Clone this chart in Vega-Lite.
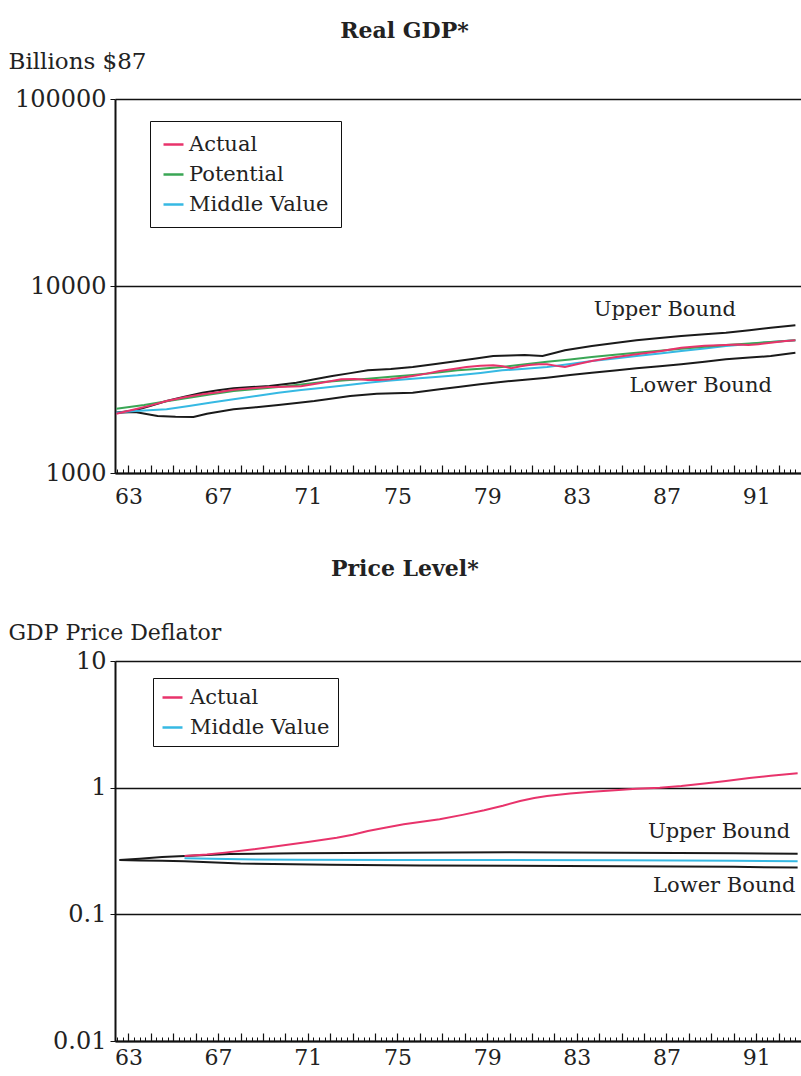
{
  "$schema": "https://vega.github.io/schema/vega-lite/v6.json",
  "padding": {"left": 8, "top": 20, "right": 0, "bottom": 0},
  "background": "white",
  "config": {
    "font": "DejaVu Serif",
    "view": {"stroke": null},
    "axis": {"labelFont": "DejaVu Serif", "titleFont": "DejaVu Serif", "labelColor": "#222", "titleColor": "#222", "titleFontWeight": "normal", "domainColor": "#111", "tickColor": "#111", "gridColor": "#111"},
    "title": {"font": "DejaVu Serif", "fontSize": 22, "fontWeight": "bold", "color": "#222"},
    "legend": {"title": null, "orient": "none", "symbolType": "stroke", "symbolSize": 400, "symbolStrokeWidth": 2.5, "labelFontSize": 21, "labelFont": "DejaVu Serif", "labelColor": "#222", "strokeColor": "#111", "fillColor": "white", "padding": 12, "rowPadding": 8, "labelOffset": 4},
    "concat": {"spacing": 51}
  },
  "datasets": {
    "gdp": [
      {"series": "Upper Bound", "year": 62.46, "value": 2102}, {"series": "Upper Bound", "year": 63.3, "value": 2163}, {"series": "Upper Bound", "year": 64.0, "value": 2290}, {"series": "Upper Bound", "year": 64.7, "value": 2427}, {"series": "Upper Bound", "year": 65.5, "value": 2560}, {"series": "Upper Bound", "year": 66.3, "value": 2689}, {"series": "Upper Bound", "year": 67.0, "value": 2770}, {"series": "Upper Bound", "year": 67.69, "value": 2837}, {"series": "Upper Bound", "year": 68.5, "value": 2880}, {"series": "Upper Bound", "year": 69.29, "value": 2919}, {"series": "Upper Bound", "year": 70.49, "value": 3042}, {"series": "Upper Bound", "year": 71.3, "value": 3170}, {"series": "Upper Bound", "year": 72.09, "value": 3302}, {"series": "Upper Bound", "year": 72.9, "value": 3420}, {"series": "Upper Bound", "year": 73.68, "value": 3540}, {"series": "Upper Bound", "year": 74.7, "value": 3600}, {"series": "Upper Bound", "year": 75.68, "value": 3688}, {"series": "Upper Bound", "year": 76.7, "value": 3830}, {"series": "Upper Bound", "year": 77.68, "value": 3971}, {"series": "Upper Bound", "year": 78.5, "value": 4090}, {"series": "Upper Bound", "year": 79.27, "value": 4223}, {"series": "Upper Bound", "year": 80.0, "value": 4250}, {"series": "Upper Bound", "year": 80.67, "value": 4276}, {"series": "Upper Bound", "year": 81.47, "value": 4223}, {"series": "Upper Bound", "year": 82.0, "value": 4380}, {"series": "Upper Bound", "year": 82.47, "value": 4529}, {"series": "Upper Bound", "year": 83.67, "value": 4777}, {"series": "Upper Bound", "year": 84.7, "value": 4950}, {"series": "Upper Bound", "year": 85.66, "value": 5122}, {"series": "Upper Bound", "year": 86.7, "value": 5270}, {"series": "Upper Bound", "year": 87.66, "value": 5402}, {"series": "Upper Bound", "year": 88.7, "value": 5520}, {"series": "Upper Bound", "year": 89.65, "value": 5628}, {"series": "Upper Bound", "year": 90.7, "value": 5800}, {"series": "Upper Bound", "year": 91.65, "value": 5987}, {"series": "Upper Bound", "year": 92.75, "value": 6163},
      {"series": "Lower Bound", "year": 62.46, "value": 2102}, {"series": "Lower Bound", "year": 63.3, "value": 2119}, {"series": "Lower Bound", "year": 64.3, "value": 2018}, {"series": "Lower Bound", "year": 65.1, "value": 2000}, {"series": "Lower Bound", "year": 65.9, "value": 1993}, {"series": "Lower Bound", "year": 66.5, "value": 2076}, {"series": "Lower Bound", "year": 67.69, "value": 2190}, {"series": "Lower Bound", "year": 68.7, "value": 2250}, {"series": "Lower Bound", "year": 69.69, "value": 2310}, {"series": "Lower Bound", "year": 70.5, "value": 2370}, {"series": "Lower Bound", "year": 71.29, "value": 2427}, {"series": "Lower Bound", "year": 72.1, "value": 2500}, {"series": "Lower Bound", "year": 72.89, "value": 2581}, {"series": "Lower Bound", "year": 74.08, "value": 2656}, {"series": "Lower Bound", "year": 75.68, "value": 2689}, {"series": "Lower Bound", "year": 76.88, "value": 2802}, {"series": "Lower Bound", "year": 77.8, "value": 2890}, {"series": "Lower Bound", "year": 78.68, "value": 2980}, {"series": "Lower Bound", "year": 80.07, "value": 3105}, {"series": "Lower Bound", "year": 81.67, "value": 3235}, {"series": "Lower Bound", "year": 82.7, "value": 3340}, {"series": "Lower Bound", "year": 83.67, "value": 3440}, {"series": "Lower Bound", "year": 84.7, "value": 3530}, {"series": "Lower Bound", "year": 85.66, "value": 3628}, {"series": "Lower Bound", "year": 86.7, "value": 3720}, {"series": "Lower Bound", "year": 87.66, "value": 3812}, {"series": "Lower Bound", "year": 88.7, "value": 3930}, {"series": "Lower Bound", "year": 89.65, "value": 4053}, {"series": "Lower Bound", "year": 90.7, "value": 4140}, {"series": "Lower Bound", "year": 91.65, "value": 4223}, {"series": "Lower Bound", "year": 92.75, "value": 4400},
      {"series": "Middle Value", "year": 62.46, "value": 2102}, {"series": "Middle Value", "year": 63.3, "value": 2146}, {"series": "Middle Value", "year": 64.7, "value": 2190}, {"series": "Middle Value", "year": 65.7, "value": 2282}, {"series": "Middle Value", "year": 66.7, "value": 2380}, {"series": "Middle Value", "year": 67.69, "value": 2477}, {"series": "Middle Value", "year": 68.7, "value": 2580}, {"series": "Middle Value", "year": 69.69, "value": 2689}, {"series": "Middle Value", "year": 70.7, "value": 2775}, {"series": "Middle Value", "year": 71.69, "value": 2860}, {"series": "Middle Value", "year": 72.7, "value": 2950}, {"series": "Middle Value", "year": 73.68, "value": 3042}, {"series": "Middle Value", "year": 74.7, "value": 3120}, {"series": "Middle Value", "year": 75.68, "value": 3195}, {"series": "Middle Value", "year": 76.7, "value": 3260}, {"series": "Middle Value", "year": 77.68, "value": 3329}, {"series": "Middle Value", "year": 78.7, "value": 3430}, {"series": "Middle Value", "year": 79.67, "value": 3540}, {"series": "Middle Value", "year": 80.7, "value": 3610}, {"series": "Middle Value", "year": 81.67, "value": 3688}, {"series": "Middle Value", "year": 82.7, "value": 3830}, {"series": "Middle Value", "year": 83.67, "value": 3971}, {"series": "Middle Value", "year": 84.7, "value": 4100}, {"series": "Middle Value", "year": 85.66, "value": 4223}, {"series": "Middle Value", "year": 86.7, "value": 4350}, {"series": "Middle Value", "year": 87.66, "value": 4491}, {"series": "Middle Value", "year": 88.7, "value": 4630}, {"series": "Middle Value", "year": 89.65, "value": 4777}, {"series": "Middle Value", "year": 90.7, "value": 4900}, {"series": "Middle Value", "year": 91.65, "value": 5018}, {"series": "Middle Value", "year": 92.75, "value": 5122},
      {"series": "Potential", "year": 62.46, "value": 2208}, {"series": "Potential", "year": 63.7, "value": 2310}, {"series": "Potential", "year": 64.7, "value": 2420}, {"series": "Potential", "year": 65.7, "value": 2528}, {"series": "Potential", "year": 66.7, "value": 2640}, {"series": "Potential", "year": 67.69, "value": 2745}, {"series": "Potential", "year": 68.7, "value": 2815}, {"series": "Potential", "year": 69.69, "value": 2884}, {"series": "Potential", "year": 70.7, "value": 2975}, {"series": "Potential", "year": 71.69, "value": 3067}, {"series": "Potential", "year": 72.7, "value": 3130}, {"series": "Potential", "year": 73.68, "value": 3195}, {"series": "Potential", "year": 74.7, "value": 3270}, {"series": "Potential", "year": 75.68, "value": 3343}, {"series": "Potential", "year": 76.7, "value": 3440}, {"series": "Potential", "year": 77.68, "value": 3540}, {"series": "Potential", "year": 78.7, "value": 3610}, {"series": "Potential", "year": 79.67, "value": 3688}, {"series": "Potential", "year": 80.7, "value": 3810}, {"series": "Potential", "year": 81.67, "value": 3938}, {"series": "Potential", "year": 82.7, "value": 4050}, {"series": "Potential", "year": 83.67, "value": 4171}, {"series": "Potential", "year": 84.7, "value": 4290}, {"series": "Potential", "year": 85.66, "value": 4400}, {"series": "Potential", "year": 86.7, "value": 4510}, {"series": "Potential", "year": 87.66, "value": 4623}, {"series": "Potential", "year": 88.7, "value": 4730}, {"series": "Potential", "year": 89.65, "value": 4836}, {"series": "Potential", "year": 90.7, "value": 4930}, {"series": "Potential", "year": 91.65, "value": 5018}, {"series": "Potential", "year": 92.75, "value": 5122},
      {"series": "Actual", "year": 62.46, "value": 2076}, {"series": "Actual", "year": 63.3, "value": 2190}, {"series": "Actual", "year": 64.0, "value": 2300}, {"series": "Actual", "year": 64.7, "value": 2427}, {"series": "Actual", "year": 65.5, "value": 2540}, {"series": "Actual", "year": 66.3, "value": 2635}, {"series": "Actual", "year": 67.0, "value": 2700}, {"series": "Actual", "year": 67.69, "value": 2790}, {"series": "Actual", "year": 68.5, "value": 2840}, {"series": "Actual", "year": 69.29, "value": 2880}, {"series": "Actual", "year": 70.0, "value": 2890}, {"series": "Actual", "year": 70.69, "value": 2910}, {"series": "Actual", "year": 71.5, "value": 3020}, {"series": "Actual", "year": 72.49, "value": 3169}, {"series": "Actual", "year": 73.1, "value": 3180}, {"series": "Actual", "year": 73.68, "value": 3143}, {"series": "Actual", "year": 74.2, "value": 3140}, {"series": "Actual", "year": 74.68, "value": 3169}, {"series": "Actual", "year": 75.68, "value": 3302}, {"series": "Actual", "year": 76.3, "value": 3400}, {"series": "Actual", "year": 76.88, "value": 3511}, {"series": "Actual", "year": 77.5, "value": 3600}, {"series": "Actual", "year": 78.08, "value": 3688}, {"series": "Actual", "year": 78.7, "value": 3740}, {"series": "Actual", "year": 79.27, "value": 3765}, {"series": "Actual", "year": 79.7, "value": 3720}, {"series": "Actual", "year": 80.07, "value": 3628}, {"series": "Actual", "year": 80.5, "value": 3720}, {"series": "Actual", "year": 80.87, "value": 3781}, {"series": "Actual", "year": 81.3, "value": 3820}, {"series": "Actual", "year": 81.67, "value": 3812}, {"series": "Actual", "year": 82.1, "value": 3740}, {"series": "Actual", "year": 82.47, "value": 3688}, {"series": "Actual", "year": 83.0, "value": 3820}, {"series": "Actual", "year": 83.67, "value": 3971}, {"series": "Actual", "year": 84.6, "value": 4150}, {"series": "Actual", "year": 85.66, "value": 4311}, {"series": "Actual", "year": 86.7, "value": 4480}, {"series": "Actual", "year": 87.66, "value": 4680}, {"series": "Actual", "year": 88.7, "value": 4790}, {"series": "Actual", "year": 89.65, "value": 4836}, {"series": "Actual", "year": 90.2, "value": 4860}, {"series": "Actual", "year": 90.65, "value": 4836}, {"series": "Actual", "year": 91.1, "value": 4880}, {"series": "Actual", "year": 91.65, "value": 4977}, {"series": "Actual", "year": 92.2, "value": 5060}, {"series": "Actual", "year": 92.75, "value": 5122}
    ],
    "price": [
      {"series": "Upper Bound", "year": 62.6, "value": 0.268}, {"series": "Upper Bound", "year": 63.5, "value": 0.275}, {"series": "Upper Bound", "year": 64.5, "value": 0.283}, {"series": "Upper Bound", "year": 65.5, "value": 0.289}, {"series": "Upper Bound", "year": 67.5, "value": 0.3}, {"series": "Upper Bound", "year": 70.6, "value": 0.303}, {"series": "Upper Bound", "year": 75, "value": 0.307}, {"series": "Upper Bound", "year": 80, "value": 0.309}, {"series": "Upper Bound", "year": 85, "value": 0.307}, {"series": "Upper Bound", "year": 90, "value": 0.303}, {"series": "Upper Bound", "year": 92.85, "value": 0.301},
      {"series": "Lower Bound", "year": 62.6, "value": 0.268}, {"series": "Lower Bound", "year": 63.5, "value": 0.266}, {"series": "Lower Bound", "year": 64.5, "value": 0.265}, {"series": "Lower Bound", "year": 65.5, "value": 0.263}, {"series": "Lower Bound", "year": 68, "value": 0.252}, {"series": "Lower Bound", "year": 72, "value": 0.246}, {"series": "Lower Bound", "year": 76, "value": 0.243}, {"series": "Lower Bound", "year": 80, "value": 0.242}, {"series": "Lower Bound", "year": 85, "value": 0.24}, {"series": "Lower Bound", "year": 90, "value": 0.237}, {"series": "Lower Bound", "year": 92.85, "value": 0.234},
      {"series": "Middle Value", "year": 65.5, "value": 0.277}, {"series": "Middle Value", "year": 68, "value": 0.272}, {"series": "Middle Value", "year": 70.6, "value": 0.27}, {"series": "Middle Value", "year": 75, "value": 0.269}, {"series": "Middle Value", "year": 80, "value": 0.268}, {"series": "Middle Value", "year": 85, "value": 0.267}, {"series": "Middle Value", "year": 90, "value": 0.265}, {"series": "Middle Value", "year": 92.85, "value": 0.263},
      {"series": "Actual", "year": 65.5, "value": 0.289}, {"series": "Actual", "year": 66.5, "value": 0.297}, {"series": "Actual", "year": 67.3, "value": 0.307}, {"series": "Actual", "year": 68.5, "value": 0.325}, {"series": "Actual", "year": 69.69, "value": 0.346}, {"series": "Actual", "year": 71, "value": 0.372}, {"series": "Actual", "year": 72.29, "value": 0.403}, {"series": "Actual", "year": 73.0, "value": 0.425}, {"series": "Actual", "year": 73.68, "value": 0.455}, {"series": "Actual", "year": 74.5, "value": 0.485}, {"series": "Actual", "year": 75.28, "value": 0.514}, {"series": "Actual", "year": 76.0, "value": 0.535}, {"series": "Actual", "year": 76.88, "value": 0.563}, {"series": "Actual", "year": 77.9, "value": 0.61}, {"series": "Actual", "year": 78.87, "value": 0.663}, {"series": "Actual", "year": 79.7, "value": 0.72}, {"series": "Actual", "year": 80.47, "value": 0.785}, {"series": "Actual", "year": 81.1, "value": 0.83}, {"series": "Actual", "year": 81.67, "value": 0.859}, {"series": "Actual", "year": 82.7, "value": 0.9}, {"series": "Actual", "year": 83.67, "value": 0.93}, {"series": "Actual", "year": 84.7, "value": 0.955}, {"series": "Actual", "year": 85.66, "value": 0.98}, {"series": "Actual", "year": 86.7, "value": 1.0}, {"series": "Actual", "year": 87.66, "value": 1.03}, {"series": "Actual", "year": 88.7, "value": 1.08}, {"series": "Actual", "year": 89.65, "value": 1.13}, {"series": "Actual", "year": 90.7, "value": 1.19}, {"series": "Actual", "year": 91.65, "value": 1.24}, {"series": "Actual", "year": 92.85, "value": 1.297}
    ],
    "gdpNotes": [
      {"label": "Upper Bound", "year": 90.1, "value": 7450},
      {"label": "Lower Bound", "year": 91.7, "value": 2918}
    ],
    "priceNotes": [
      {"label": "Upper Bound", "year": 92.52, "value": 0.447},
      {"label": "Lower Bound", "year": 92.75, "value": 0.1675}
    ]
  },
  "vconcat": [
    {
      "title": {"text": "Real GDP*", "anchor": "middle", "frame": "bounds", "offset": 7},
      "width": 686,
      "height": 374,
      "encoding": {
        "y": {"field": "value", "type": "quantitative", "scale": {"type": "log", "domain": [1000, 100000], "nice": false},
          "axis": {"values": [1000, 10000, 100000], "format": "~g", "grid": true, "gridWidth": 1.5, "domainWidth": 2, "tickSize": 5, "labelFontSize": 24, "labelPadding": 4, "title": "Billions $87", "titleAngle": 0, "titleAlign": "left", "titleBaseline": "alphabetic", "titleX": -107, "titleY": -31, "titleFontSize": 23}}
      },
      "layer": [
        {
          "data": {"name": "gdp"},
          "transform": [{"filter": "datum.series === 'Upper Bound' || datum.series === 'Lower Bound'"}],
          "mark": {"type": "line", "color": "#1a1a1a", "strokeWidth": 2},
          "encoding": {
            "x": {"field": "year", "type": "quantitative", "scale": {"domain": [62.4, 93.0], "nice": false, "zero": false},
              "axis": {"orient": "bottom", "values": [63, 67, 71, 75, 79, 83, 87, 91], "ticks": false, "labelFontSize": 22, "labelPadding": 13, "domainWidth": 2, "grid": false, "title": null, "labelFlush": false, "labelOverlap": false}},
            "detail": {"field": "series"}
          }
        },
        {
          "data": {"name": "gdp"},
          "transform": [{"filter": "datum.series !== 'Upper Bound' && datum.series !== 'Lower Bound'"}],
          "mark": {"type": "line", "strokeWidth": 2},
          "encoding": {
            "x": {"field": "year", "type": "quantitative",
              "axis": {"orient": "bottom", "values": [62.5,62.75,63,63.25,63.5,63.75,64,64.25,64.5,64.75,65,65.25,65.5,65.75,66,66.25,66.5,66.75,67,67.25,67.5,67.75,68,68.25,68.5,68.75,69,69.25,69.5,69.75,70,70.25,70.5,70.75,71,71.25,71.5,71.75,72,72.25,72.5,72.75,73,73.25,73.5,73.75,74,74.25,74.5,74.75,75,75.25,75.5,75.75,76,76.25,76.5,76.75,77,77.25,77.5,77.75,78,78.25,78.5,78.75,79,79.25,79.5,79.75,80,80.25,80.5,80.75,81,81.25,81.5,81.75,82,82.25,82.5,82.75,83,83.25,83.5,83.75,84,84.25,84.5,84.75,85,85.25,85.5,85.75,86,86.25,86.5,86.75,87,87.25,87.5,87.75,88,88.25,88.5,88.75,89,89.25,89.5,89.75,90,90.25,90.5,90.75,91,91.25,91.5,91.75,92,92.25,92.5,92.75], "labels": false, "domain": false, "tickSize": -4, "tickWidth": 1, "grid": false, "title": null}},
            "color": {"field": "series", "type": "nominal",
              "scale": {"domain": ["Actual", "Potential", "Middle Value"], "range": ["#e8336b", "#3aa655", "#36b9e3"]},
              "legend": {"legendX": 35, "legendY": 22}}
          }
        },
        {
          "data": {"name": "gdpNotes"},
          "mark": {"type": "text", "align": "right", "baseline": "middle", "fontSize": 21, "font": "DejaVu Serif", "color": "#222"},
          "encoding": {
            "x": {"field": "year", "type": "quantitative",
              "axis": {"orient": "bottom", "values": [63,64,65,66,67,68,69,70,71,72,73,74,75,76,77,78,79,80,81,82,83,84,85,86,87,88,89,90,91,92], "labels": false, "domain": false, "tickSize": -8, "tickWidth": 1.2, "grid": false, "title": null}},
            "text": {"field": "label"}
          }
        }
      ],
      "resolve": {"axis": {"x": "independent"}}
    },
    {
      "title": {"text": "Price Level*", "anchor": "middle", "frame": "bounds", "offset": 40},
      "width": 686,
      "height": 380,
      "encoding": {
        "y": {"field": "value", "type": "quantitative", "scale": {"type": "log", "domain": [0.01, 10], "nice": false},
          "axis": {"values": [0.01, 0.1, 1, 10], "format": "~g", "grid": true, "gridWidth": 1.5, "domainWidth": 2, "tickSize": 5, "labelFontSize": 24, "labelPadding": 4, "title": "GDP Price Deflator", "titleAngle": 0, "titleAlign": "left", "titleBaseline": "alphabetic", "titleX": -107, "titleY": -22, "titleFontSize": 22}}
      },
      "layer": [
        {
          "data": {"name": "price"},
          "transform": [{"filter": "datum.series === 'Upper Bound' || datum.series === 'Lower Bound'"}],
          "mark": {"type": "line", "color": "#1a1a1a", "strokeWidth": 2},
          "encoding": {
            "x": {"field": "year", "type": "quantitative", "scale": {"domain": [62.4, 93.0], "nice": false, "zero": false},
              "axis": {"orient": "bottom", "values": [63, 67, 71, 75, 79, 83, 87, 91], "ticks": false, "labelFontSize": 22, "labelPadding": 6, "domainWidth": 2, "grid": false, "title": null, "labelFlush": false, "labelOverlap": false}},
            "detail": {"field": "series"}
          }
        },
        {
          "data": {"name": "price"},
          "transform": [{"filter": "datum.series !== 'Upper Bound' && datum.series !== 'Lower Bound'"}],
          "mark": {"type": "line", "strokeWidth": 2},
          "encoding": {
            "x": {"field": "year", "type": "quantitative",
              "axis": {"orient": "bottom", "values": [62.5,62.75,63,63.25,63.5,63.75,64,64.25,64.5,64.75,65,65.25,65.5,65.75,66,66.25,66.5,66.75,67,67.25,67.5,67.75,68,68.25,68.5,68.75,69,69.25,69.5,69.75,70,70.25,70.5,70.75,71,71.25,71.5,71.75,72,72.25,72.5,72.75,73,73.25,73.5,73.75,74,74.25,74.5,74.75,75,75.25,75.5,75.75,76,76.25,76.5,76.75,77,77.25,77.5,77.75,78,78.25,78.5,78.75,79,79.25,79.5,79.75,80,80.25,80.5,80.75,81,81.25,81.5,81.75,82,82.25,82.5,82.75,83,83.25,83.5,83.75,84,84.25,84.5,84.75,85,85.25,85.5,85.75,86,86.25,86.5,86.75,87,87.25,87.5,87.75,88,88.25,88.5,88.75,89,89.25,89.5,89.75,90,90.25,90.5,90.75,91,91.25,91.5,91.75,92,92.25,92.5,92.75], "labels": false, "domain": false, "tickSize": -4, "tickWidth": 1, "grid": false, "title": null}},
            "color": {"field": "series", "type": "nominal",
              "scale": {"domain": ["Actual", "Middle Value"], "range": ["#e8336b", "#36b9e3"]},
              "legend": {"legendX": 38, "legendY": 17, "padding": 8, "labelOffset": 6}}
          }
        },
        {
          "data": {"name": "priceNotes"},
          "mark": {"type": "text", "align": "right", "baseline": "middle", "fontSize": 21, "font": "DejaVu Serif", "color": "#222"},
          "encoding": {
            "x": {"field": "year", "type": "quantitative",
              "axis": {"orient": "bottom", "values": [63,64,65,66,67,68,69,70,71,72,73,74,75,76,77,78,79,80,81,82,83,84,85,86,87,88,89,90,91,92], "labels": false, "domain": false, "tickSize": -8, "tickWidth": 1.2, "grid": false, "title": null}},
            "text": {"field": "label"}
          }
        }
      ],
      "resolve": {"axis": {"x": "independent"}}
    }
  ],
  "resolve": {"scale": {"color": "independent"}, "legend": {"color": "independent"}}
}
